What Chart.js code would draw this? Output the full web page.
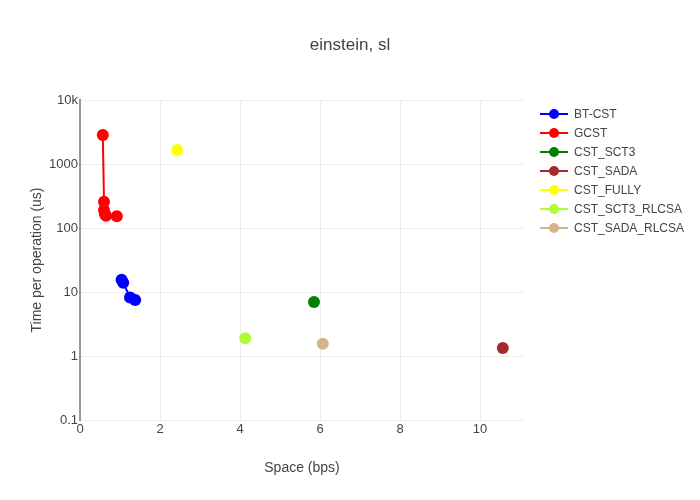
<!DOCTYPE html>
<html>
<head>
<meta charset="utf-8">
<script src="https://cdn.jsdelivr.net/npm/chart.js@4"></script>
<style>
  html, body { margin: 0; padding: 0; background: #fff; }
  #wrap { width: 700px; height: 500px; }
</style>
</head>
<body>
<div id="wrap"><canvas id="chart" width="700" height="500"></canvas></div>
<script>
// series (x = space in bps, y = time in us)
const seriesNames = ["BT-CST", "GCST", "CST_SCT3", "CST_SADA", "CST_FULLY", "CST_SCT3_RLCSA", "CST_SADA_RLCSA"];
const seriesColors = ["#0000ff", "#ff0000", "#008000", "#a52a2a", "#ffff00", "#adff2f", "#d2b48c"];

const btcstX = [1.04, 1.08, 1.25, 1.38];
const btcstY = [15.5, 14, 8.2, 7.5];
const gcstX = [0.57, 0.6, 0.6, 0.62, 0.65, 0.92];
const gcstY = [2840, 257, 191, 165, 155, 152];
const sct3X = [5.85];
const sct3Y = [7.0];
const sadaX = [10.57];
const sadaY = [1.33];
const fullyX = [2.43];
const fullyY = [1660];
const sct3RlcsaX = [4.13];
const sct3RlcsaY = [1.9];
const sadaRlcsaX = [6.07];
const sadaRlcsaY = [1.55];

const xTicks = [0, 2, 4, 6, 8, 10];
const yTicks = [0.1, 1, 10, 100, 1000, 10000];
const yTickLabels = ["0.1", "1", "10", "100", "1000", "10k"];

const chartTitle = "einstein, sl";

const allX = [btcstX, gcstX, sct3X, sadaX, fullyX, sct3RlcsaX, sadaRlcsaX];
const allY = [btcstY, gcstY, sct3Y, sadaY, fullyY, sct3RlcsaY, sadaRlcsaY];

const datasets = seriesNames.map((name, i) => ({
  label: name,
  data: allX[i].map((x, j) => ({ x: x, y: allY[i][j] })),
  borderColor: seriesColors[i],
  backgroundColor: seriesColors[i],
  showLine: true,
  borderWidth: 2,
  pointRadius: 6,
  pointHoverRadius: 6,
  pointBorderWidth: 0,
}));

// plotly-like title centred on the page, and legend on the right: line + dot + label
const sideLegend = {
  id: "sideLegend",
  afterDraw(chart) {
    const ctx = chart.ctx;
    ctx.save();
    ctx.fillStyle = "#444";
    ctx.font = "17px 'Liberation Sans', Arial, sans-serif";
    ctx.textAlign = "center";
    ctx.textBaseline = "middle";
    ctx.fillText(chartTitle, 350, 45);

    chart.data.datasets.forEach((ds, i) => {
      const y = 114 + i * 19;
      ctx.strokeStyle = ds.borderColor;
      ctx.lineWidth = 2;
      ctx.beginPath();
      ctx.moveTo(540, y);
      ctx.lineTo(568, y);
      ctx.stroke();
      ctx.fillStyle = ds.borderColor;
      ctx.beginPath();
      ctx.arc(554, y, 5, 0, Math.PI * 2);
      ctx.fill();
      ctx.fillStyle = "#444";
      ctx.font = "12px 'Liberation Sans', Arial, sans-serif";
      ctx.textBaseline = "middle";
      ctx.textAlign = "left";
      ctx.fillText(ds.label, 574, y + 1);
    });
    ctx.restore();
  },
};

Chart.defaults.font.family = "'Liberation Sans', Arial, sans-serif";
Chart.defaults.color = "#444";

new Chart(document.getElementById("chart").getContext("2d"), {
  type: "scatter",
  data: { datasets: datasets },
  options: {
    responsive: false,
    animation: false,
    layout: { padding: { top: 100, right: 176, left: 0, bottom: 0 } },
    plugins: {
      legend: { display: false },
      tooltip: { enabled: false },
      title: { display: false },
    },
    scales: {
      x: {
        type: "linear",
        min: 0,
        max: 11.1,
        afterBuildTicks: (scale) => {
          scale.ticks = xTicks.map((v) => ({ value: v }));
        },
        afterFit: (scale) => {
          scale.height = 80;
        },
        ticks: { font: { size: 13 }, color: "#444", padding: 2, maxRotation: 0 },
        grid: { color: "#eeeeee", drawTicks: false, lineWidth: 1 },
        border: { display: false },
        title: {
          display: true,
          text: "Space (bps)",
          color: "#444",
          font: { size: 14 },
          padding: { top: 4, bottom: 23 },
        },
      },
      y: {
        type: "logarithmic",
        min: 0.1,
        max: 10000,
        afterBuildTicks: (scale) => {
          scale.ticks = yTicks.map((v) => ({ value: v }));
        },
        afterFit: (scale) => {
          scale.width = 80;
        },
        ticks: {
          font: { size: 13 },
          color: "#444",
          padding: 2,
          callback: (v) => yTickLabels[yTicks.indexOf(v)],
        },
        grid: { color: "#eeeeee", drawTicks: false, lineWidth: 1 },
        border: { display: true, color: "#999", width: 2 },
        title: {
          display: true,
          text: "Time per operation (us)",
          color: "#444",
          font: { size: 14 },
          padding: { top: 29, bottom: 4 },
        },
      },
    },
  },
  plugins: [sideLegend],
});
</script>
</body>
</html>
